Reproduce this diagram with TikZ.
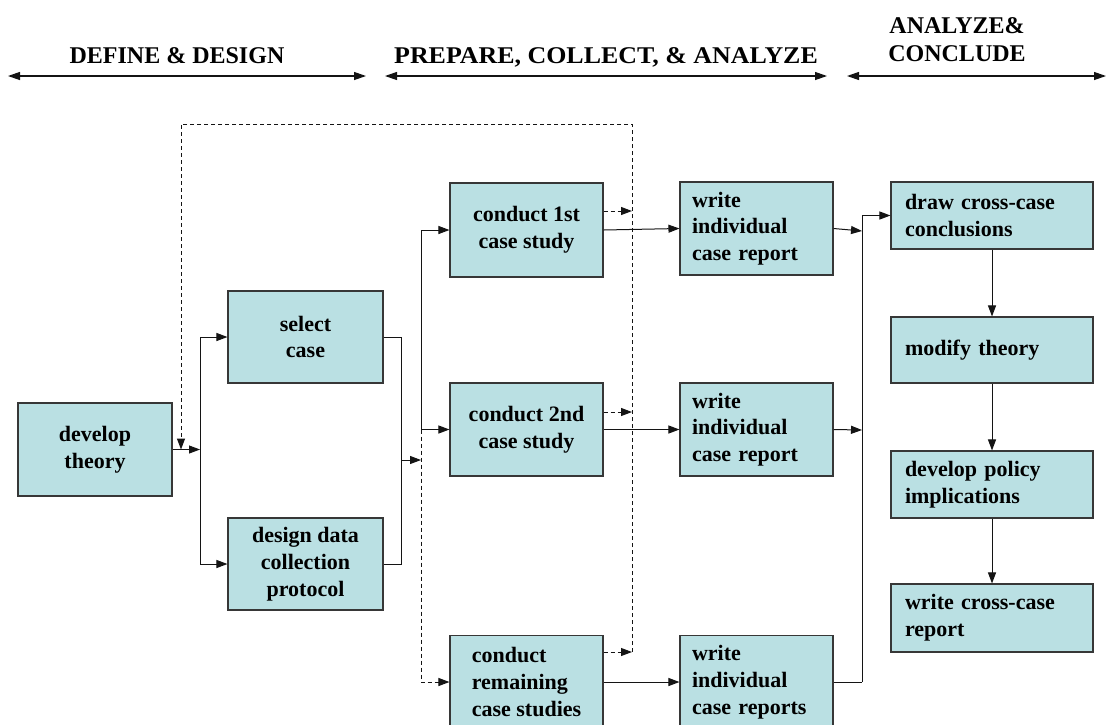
\documentclass[tikz,border=0pt]{standalone}
\usepackage{fontspec}
\setmainfont{Liberation Serif}
\usetikzlibrary{arrows.meta,positioning}
\definecolor{boxfill}{RGB}{186,224,227}
\definecolor{boxline}{RGB}{55,55,55}
\definecolor{lnk}{RGB}{20,20,20}
\tikzset{
  box/.style={draw=boxline, fill=boxfill, line width=1.1pt, inner sep=0pt,
    font=\fontsize{22}{26.7}\selectfont\bfseries},
  cbox/.style={box, align=center, minimum width=#1},
  lbox/.style={box, align=left},
  arr/.style={-{Triangle[length=11pt,width=8pt]}},
  dsh/.style={dash pattern=on 4pt off 3pt},
  lnkline/.style={draw=lnk, line width=1pt},
  hdr/.style={font=\fontsize{24}{28}\selectfont\bfseries, inner sep=0pt, align=center},
  hdrarrow/.style={{Triangle[length=12pt,width=8pt]}-{Triangle[length=12pt,width=8pt]}, line width=1.2pt, draw=lnk}
}
\begin{document}
\begin{tikzpicture}[x=1pt,y=-1pt]
\clip (0,0) rectangle (1107,724);
\fill[white] (0,0) rectangle (1107,724);

% headers
\node[hdr, anchor=base] (h1) at (177,63) {DEFINE \& DESIGN};
\node[hdr, anchor=base] (h2) at (606,63) {\scalebox{1.08}[1]{PREPARE, COLLECT, \& ANALYZE}};
\node[hdr, anchor=base] (h3a) at (957,33) {ANALYZE\&};
\node[hdr, anchor=base] (h3b) at (957,61) {CONCLUDE};
\coordinate (a1l) at (8,76);   \coordinate (a1r) at (366,76);
\coordinate (a2l) at (385,76); \coordinate (a2r) at (827,76);
\coordinate (a3l) at (847,76); \coordinate (a3r) at (1106,76);
\draw[hdrarrow] (a1l) -- (a1r);
\draw[hdrarrow] (a2l) -- (a2r);
\draw[hdrarrow] (a3l) -- (a3r);

% boxes
\node[cbox=154pt, minimum height=93pt] (dev) at (95,449.5) {develop\\theory};
\node[cbox=155pt, minimum height=92pt] (sel) at (305.5,337) {select\\case};
\node[cbox=155pt, minimum height=92pt] (des) at (305.5,564) {design data\\collection\\protocol};
\node[cbox=153pt, minimum height=94pt] (c1) at (526.5,230) {conduct 1st\\case study};
\node[cbox=153pt, minimum height=93pt] (c2) at (526.5,429.5) {conduct 2nd\\case study};
\node[lbox, minimum width=153pt, minimum height=93pt] (c3) at (526.5,682) {conduct\\remaining\\case studies};
\node[lbox, text width=129pt, inner xsep=12pt, minimum height=93pt] (w1) at (756.5,228.5) {write\\individual\\case report};
\node[lbox, text width=129pt, inner xsep=12pt, minimum height=93pt] (w2) at (756.5,429.5) {write\\individual\\case report};
\node[lbox, text width=129pt, inner xsep=12pt, minimum height=93pt] (w3) at (756.5,682) {write\\individual\\case reports};
\node[lbox, text width=174pt, inner xsep=14pt, minimum height=67pt] (d1) at (992,215.5) {draw cross-case\\conclusions};
\node[lbox, text width=174pt, inner xsep=14pt, minimum height=66pt] (d2) at (992,350) {modify theory};
\node[lbox, text width=174pt, inner xsep=14pt, minimum height=67pt] (d3) at (992,484.5) {develop policy\\implications};
\node[lbox, text width=174pt, inner xsep=14pt, minimum height=68pt] (d4) at (992,618) {write cross-case\\report};

% left joins
\coordinate (jL) at (200,449.5);
\draw[lnkline,arr] (dev.east) -- (jL);
\draw[lnkline,arr] (jL) |- (sel.west);
\draw[lnkline,arr] (jL) |- (des.west);

\coordinate (br) at (401,337);
\coordinate (jM) at (401,460);
\coordinate (jM2) at (421,460);
\draw[lnkline] (sel.east) -- (br) |- (des.east);
\draw[lnkline,arr] (jM) -- (jM2);

\coordinate (v2) at (421,429.5);
\draw[lnkline,arr] (v2) -- (c2.west);
\draw[lnkline,arr] (v2) |- (c1.west);
\draw[lnkline,dsh,arr] (v2) |- (c3.west);

% feedback dashed
\coordinate (f1) at (632,211);
\coordinate (f2) at (632,412);
\coordinate (f3) at (632,652);
\coordinate (ftr) at (632,124);
\coordinate (ftl) at (181,124);
\coordinate (fend) at (181,449.5);
\draw[lnkline,dsh,arr] (c1.east |- f1) -- (f1);
\draw[lnkline,dsh,arr] (c2.east |- f2) -- (f2);
\draw[lnkline,dsh,arr] (c3.east |- f3) -- (f3);
\draw[lnkline,dsh,arr] (f3) -- (ftr) -- (ftl) -- (fend);

% to write boxes
\draw[lnkline,arr] (c1.east) -- (w1.west);
\draw[lnkline,arr] (c2.east) -- (w2.west);
\draw[lnkline,arr] (c3.east) -- (w3.west);

% to conclusions
\coordinate (r1) at (862,231);
\coordinate (r2) at (862,430);
\coordinate (r3) at (862,682);
\draw[lnkline,arr] (w1.east) -- (r1);
\draw[lnkline,arr] (w2.east) -- (r2);
\draw[lnkline] (w3.east) -- (r3);
\draw[lnkline,arr] (r3) |- (d1.west);

\draw[lnkline,arr] (d1) -- (d2);
\draw[lnkline,arr] (d2) -- (d3);
\draw[lnkline,arr] (d3) -- (d4);
\end{tikzpicture}
\end{document}
